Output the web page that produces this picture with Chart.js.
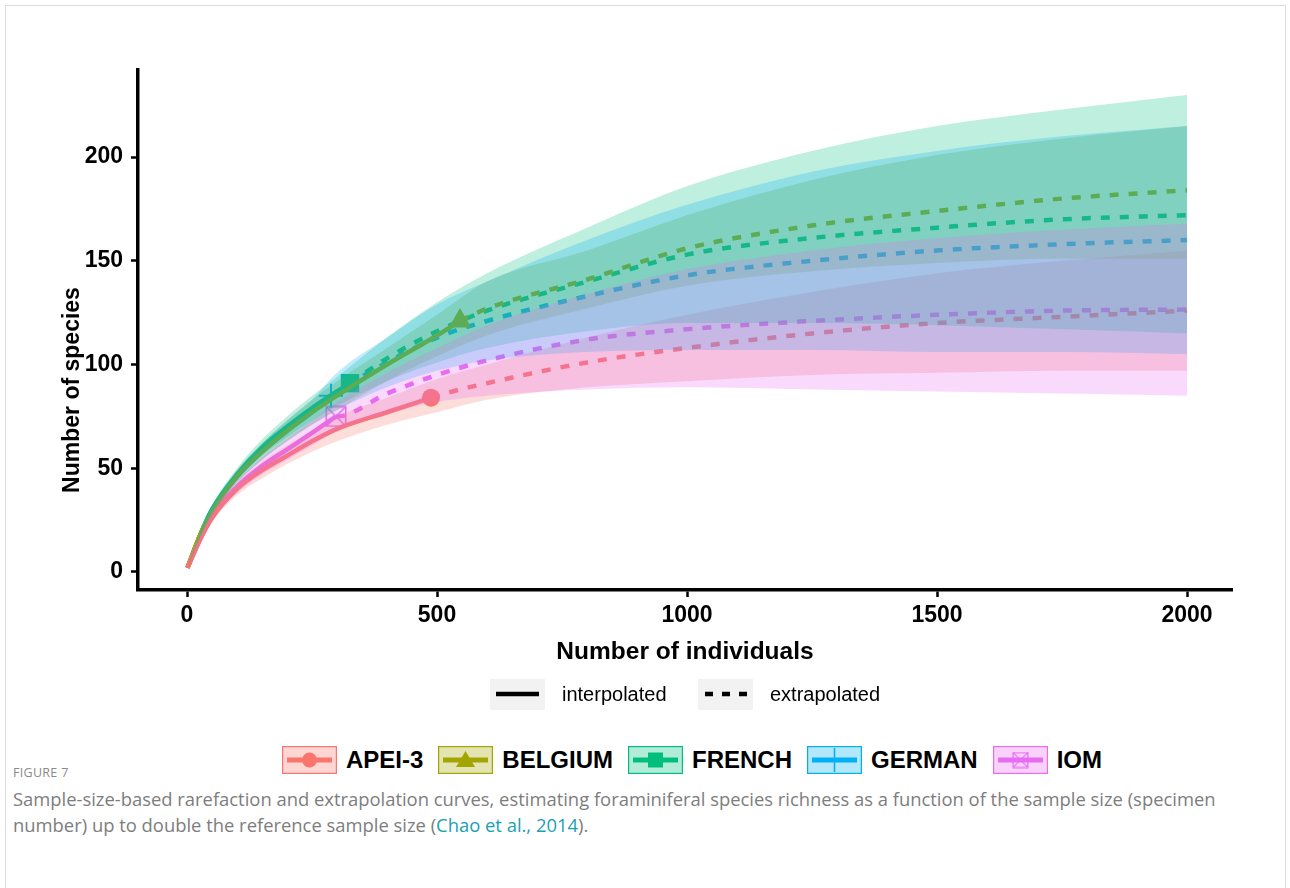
<!DOCTYPE html>
<html>
<head>
<meta charset="utf-8">
<script src="https://cdn.jsdelivr.net/npm/chart.js@4.4.1/dist/chart.umd.min.js"></script>
<style>
  body { margin: 0; background: #fff; width: 1290px; height: 888px; overflow: hidden; position: relative; font-family: "Liberation Sans", Arial, sans-serif; }
  #frame { position: absolute; left: 5px; top: 5px; width: 1279px; height: 890px; border: 1px solid #dcdcdc; }
  #chart { position: absolute; left: 0; top: 0; }
  .key { position: absolute; display: flex; align-items: center; }
  .key canvas { display: block; }
  .lbl1 { font-size: 20px; color: #000; margin-left: 17px; }
  .lbl2 { font-size: 24px; font-weight: bold; color: #000; margin-left: 9px; margin-right: 15px; }
  #cap-head { position: absolute; left: 13px; top: 764px; font-family: "Open Sans", sans-serif; font-size: 12.5px; color: #8a8a8a; letter-spacing: 0.3px; }
  #cap { position: absolute; left: 13px; top: 786px; width: 1250px; font-family: "Open Sans", sans-serif; font-size: 18.4px; line-height: 26px; color: #7d7d7d; }
  #cap a { color: #1a9fb4; text-decoration: none; }
</style>
</head>
<body>
<div id="frame"></div>
<canvas id="chart" width="1290" height="680"></canvas>
<div id="typeLegend"></div>
<div id="groupLegend"></div>
<div id="cap-head">FIGURE 7</div>
<div id="cap">Sample-size-based rarefaction and extrapolation curves, estimating foraminiferal species richness as a function of the sample size (specimen number) up to double the reference sample size (<a>Chao et al., 2014</a>).</div>
<script>
'use strict'

// sample sizes (number of individuals) where the curves are read
const grid = [1, 25, 50, 100, 150, 200, 250, 300, 400, 500, 600, 800, 1000, 1250, 1500, 1750, 2000];

const groups = ['APEI-3', 'BELGIUM', 'FRENCH', 'GERMAN', 'IOM'];
const colors = ['#F8766D', '#A3A500', '#00BF7D', '#00B0F6', '#E76BF3'];
const markers = ['circle', 'triangle', 'rect', 'cross', 'rectX'];

// reference sample (observed point)
const sampleSize = [488, 546, 326, 288, 298];
const observedSpecies = [84, 121, 91, 85, 75];

// estimated richness
const apeiEst    = [2, 15, 26, 40, 49, 56, 63, 69, 77, 85, 91, 101, 108, 115, 120, 123, 126];
const belgiumEst = [2, 17, 29, 46, 58, 68, 77, 85, 100, 114, 127, 141, 156, 167, 174, 180, 184];
const frenchEst  = [2, 17, 30, 47, 60, 70, 79, 87, 103, 116, 126, 140, 153, 161, 166, 170, 172];
const germanEst  = [2, 17, 30, 46, 58, 68, 77, 87, 101, 113, 121, 133, 143, 150, 155, 158, 160];
const iomEst     = [2, 15, 27, 41, 51, 59, 67, 75, 86, 95, 102, 112, 117, 121, 124, 126, 126.5];

// 95% confidence bands
const apeiLo    = [2, 14, 24, 37, 45, 52, 58, 63, 71, 77, 83, 89, 92, 95, 96, 97, 97];
const apeiHi    = [2, 16, 28, 43, 53, 61, 68, 75, 84, 93, 100, 113, 124, 135, 144, 150, 155];
const belgiumLo = [2, 16, 27, 43, 54, 63, 71, 78, 92, 104, 114, 127, 138, 145, 149, 151, 151];
const belgiumHi = [2, 18, 31, 49, 62, 73, 83, 92, 108, 124, 140, 155, 172, 189, 201, 209, 215];
const frenchLo  = [2, 16, 28, 44, 56, 65, 73, 80, 92, 101, 108, 116, 120, 120, 119, 117, 115];
const frenchHi  = [2, 18, 32, 50, 64, 75, 85, 94, 113, 130, 144, 166, 186, 203, 215, 223, 230];
const germanLo  = [2, 16, 28, 43, 54, 63, 71, 78, 89, 97, 102, 106, 107, 107, 106, 106, 105];
const germanHi  = [2, 18, 32, 49, 62, 73, 83, 96, 113, 129, 140, 160, 177, 193, 203, 210, 215];
const iomLo     = [2, 14, 25, 38, 47, 54, 61, 68, 76, 82, 85, 88, 89, 88, 87, 86, 85];
const iomHi     = [2, 16, 29, 44, 55, 64, 73, 82, 96, 108, 119, 134, 146, 155, 161, 165, 168];

const xTicks = [0, 500, 1000, 1500, 2000];
const yTicks = [0, 50, 100, 150, 200];

const est = [apeiEst, belgiumEst, frenchEst, germanEst, iomEst];
const lo = [apeiLo, belgiumLo, frenchLo, germanLo, iomLo];
const hi = [apeiHi, belgiumHi, frenchHi, germanHi, iomHi];

function rgba(hex, a) {
  const n = parseInt(hex.slice(1), 16);
  return 'rgba(' + (n >> 16) + ',' + ((n >> 8) & 255) + ',' + (n & 255) + ',' + a + ')';
}

// square with an x inside (ggplot shape 7)
function rectXImage(color, size, lw) {
  const c = document.createElement('canvas');
  c.width = size; c.height = size;
  const g = c.getContext('2d');
  g.strokeStyle = color; g.lineWidth = lw;
  const p = lw / 2 + 0.5;
  g.strokeRect(p, p, size - 2 * p, size - 2 * p);
  g.beginPath();
  g.moveTo(p, p); g.lineTo(size - p, size - p);
  g.moveTo(size - p, p); g.lineTo(p, size - p);
  g.stroke();
  return c;
}

const bandAlpha = 0.25;
const datasets = [];

groups.forEach((name, g) => {
  const pts = arr => grid.map((x, i) => ({x: x, y: arr[i]}));
  const n = sampleSize[g], s = observedSpecies[g];
  const obs = {x: n, y: s};
  // later groups' bands end up on top, lines stay beneath all bands
  const bandOrder = 1 + (groups.length - g) / 10;

  datasets.push({
    label: name + ' upper', data: pts(hi[g]), fill: '+1',
    backgroundColor: rgba(colors[g], bandAlpha), borderWidth: 0,
    pointRadius: 0, cubicInterpolationMode: 'monotone', order: bandOrder
  });
  datasets.push({
    label: name + ' lower', data: pts(lo[g]), fill: false,
    borderWidth: 0, pointRadius: 0, cubicInterpolationMode: 'monotone', order: bandOrder
  });

  const interp = pts(est[g]).filter(p => p.x < n).concat([obs]);
  const extrap = [obs].concat(pts(est[g]).filter(p => p.x > n));

  datasets.push({
    label: name + ' interpolated', data: interp, borderColor: colors[g],
    borderWidth: 4.5, pointRadius: 0, fill: false, cubicInterpolationMode: 'monotone', order: 3
  });
  datasets.push({
    label: name + ' extrapolated', data: extrap, borderColor: colors[g],
    borderWidth: 4.5, borderDash: [9, 10], pointRadius: 0, fill: false,
    cubicInterpolationMode: 'monotone', order: 3
  });

  const style = markers[g];
  let point = {pointStyle: style, pointRadius: 10, pointBorderWidth: 0, pointBackgroundColor: colors[g], pointBorderColor: colors[g]};
  if (style === 'circle') point.pointRadius = 9;
  if (style === 'triangle') point.pointRadius = 13;
  if (style === 'rect') point.pointRadius = 13;
  if (style === 'cross') { point.pointRadius = 12; point.pointBorderWidth = 2; }
  if (style === 'rectX') { point.pointStyle = rectXImage(colors[g], 22, 1.6); }
  datasets.push(Object.assign({
    label: name + ' observed', data: [obs], showLine: false, order: 3
  }, point));
});

const bold = size => ({family: '"Liberation Sans", Arial, sans-serif', weight: 'bold', size: size});

// y title sits a bit below the middle of the axis, as in the figure
const yTitle = {
  id: 'yTitle',
  afterDraw(chart) {
    const ctx = chart.ctx;
    ctx.save();
    ctx.translate(73, 390);
    ctx.rotate(-Math.PI / 2);
    ctx.font = 'bold 23px "Liberation Sans", Arial, sans-serif';
    ctx.fillStyle = '#000';
    ctx.textAlign = 'center';
    ctx.textBaseline = 'middle';
    ctx.fillText('Number of species', 0, 0);
    ctx.restore();
  }
};

new Chart(document.getElementById('chart'), {
  type: 'line',
  data: {datasets: datasets},
  plugins: [yTitle],
  options: {
    responsive: false,
    animation: false,
    events: [],
    layout: {padding: {left: 0, right: 58, top: 70, bottom: 0}},
    plugins: {legend: {display: false}, tooltip: {enabled: false}},
    scales: {
      x: {
        type: 'linear', min: -98, max: 2090,
        afterBuildTicks: s => { s.ticks = xTicks.map(v => ({value: v})); },
        afterFit: s => { s.height = 90; },
        ticks: {color: '#000', font: bold(23), padding: 5, maxRotation: 0, autoSkip: false, callback: v => String(v)},
        grid: {display: true, drawOnChartArea: false, drawTicks: true, tickLength: 7, color: '#000', tickColor: '#000', tickWidth: 2.5},
        border: {display: true, color: '#000', width: 3.5},
        title: {display: true, text: 'Number of individuals', color: '#000', font: bold(24.5), padding: {top: 0, bottom: 13}}
      },
      y: {
        type: 'linear', min: -8.7, max: 242,
        afterBuildTicks: s => { s.ticks = yTicks.map(v => ({value: v})); },
        afterFit: s => { s.width = 138; },
        ticks: {color: '#000', font: bold(23), padding: 8, autoSkip: false, callback: v => String(v)},
        grid: {display: true, drawOnChartArea: false, drawTicks: true, tickLength: 7, color: '#000', tickColor: '#000', tickWidth: 2.5},
        border: {display: true, color: '#000', width: 3.5},
        title: {display: false}
      }
    }
  }
});

// legend keys
function keyCanvas(w, h, bg, border) {
  const c = document.createElement('canvas');
  c.width = w; c.height = h;
  const g = c.getContext('2d');
  if (bg) { g.fillStyle = bg; g.fillRect(0, 0, w, h); }
  if (border) { g.strokeStyle = border; g.lineWidth = 1.2; g.strokeRect(0.6, 0.6, w - 1.2, h - 1.2); }
  return [c, g];
}

const typeLegend = document.getElementById('typeLegend');
[['interpolated', false, 490], ['extrapolated', true, 698]].forEach(([txt, dashed, left]) => {
  const wrap = document.createElement('div');
  wrap.className = 'key';
  wrap.style.left = left + 'px'; wrap.style.top = '679px';
  const [c, g] = keyCanvas(55, 31, '#f2f2f2', null);
  g.strokeStyle = '#000'; g.lineWidth = 4.5;
  if (dashed) g.setLineDash([8, 9]);
  g.beginPath(); g.moveTo(dashed ? 7 : 6, 15); g.lineTo(49, 15); g.stroke();
  const span = document.createElement('span');
  span.className = 'lbl1'; span.textContent = txt;
  wrap.appendChild(c); wrap.appendChild(span);
  typeLegend.appendChild(wrap);
});

const groupLegend = document.getElementById('groupLegend');
groupLegend.className = 'key';
groupLegend.style.left = '282px'; groupLegend.style.top = '746px';
groups.forEach((name, g) => {
  const [c, ctx] = keyCanvas(55, 28, rgba(colors[g], 0.3), colors[g]);
  ctx.strokeStyle = colors[g]; ctx.lineWidth = 5;
  ctx.beginPath(); ctx.moveTo(5, 14); ctx.lineTo(50, 14); ctx.stroke();
  ctx.fillStyle = colors[g];
  const m = markers[g];
  if (m === 'circle') { ctx.beginPath(); ctx.arc(27.5, 14, 7.5, 0, Math.PI * 2); ctx.fill(); }
  if (m === 'triangle') { ctx.beginPath(); ctx.moveTo(27.5, 5); ctx.lineTo(37, 21); ctx.lineTo(18, 21); ctx.closePath(); ctx.fill(); }
  if (m === 'rect') { ctx.fillRect(20, 6.5, 15, 15); }
  if (m === 'cross') { ctx.lineWidth = 1.6; ctx.beginPath(); ctx.moveTo(27.5, 2); ctx.lineTo(27.5, 26); ctx.stroke(); }
  if (m === 'rectX') { ctx.drawImage(rectXImage(colors[g], 17, 1.2), 19, 5.5); }
  const span = document.createElement('span');
  span.className = 'lbl2'; span.textContent = name;
  groupLegend.appendChild(c); groupLegend.appendChild(span);
});
</script>
</body>
</html>
